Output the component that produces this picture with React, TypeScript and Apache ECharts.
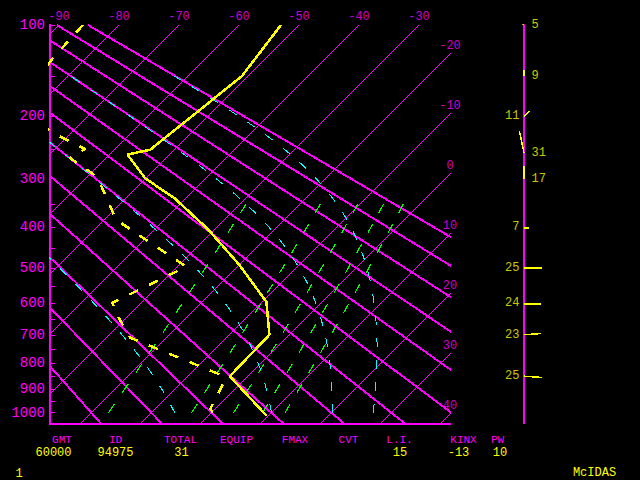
import React, { useEffect, useRef } from "react";
import * as echarts from "echarts";

// ---------------- data ----------------
const pressureLabels = [100, 200, 300, 400, 500, 600, 700, 800, 900, 1000];
const pressureTicks = [100, 150, 200, 250, 300, 350, 400, 450, 500, 550, 600, 650, 700, 750, 800, 850, 900, 950, 1000];
const isothermValues = [-90, -80, -70, -60, -50, -40, -30, -20, -10, 0, 10, 20, 30, 40];
const dryAdiabatThetas = [-20, -10, 0, 10, 20, 30, 40, 50, 60, 70, 80, 90]; // potential temperature, °C
const moistAdiabatThetaEs = [0, 30, 60, 90]; // equivalent potential temperature, °C
const mixingRatios = [1, 3, 5, 7, 9]; // g/kg

// temperature profile (hPa, °C)
const tempP = [100, 150, 250, 258, 300, 337, 405, 491, 595, 700, 850, 1013];
const tempT = [-53, -51, -54, -57, -50, -42, -31, -20, -9.3, -3.3, -3, 9.7];
// dew point profile (hPa, °C)
const dewP = [100, 130, 180, 222, 249, 264, 297, 383, 496, 598, 626, 710, 841, 872, 983, 1013];
const dewT = [-86, -85.5, -84, -73.7, -65, -66, -58.3, -48, -28.5, -34.8, -32.8, -26, -5.3, -3, -0.8, 1];

// winds (hPa, kt, degrees)
const windP = [100, 150, 200, 255, 300, 400, 500, 600, 700, 850];
const windSpeed = [5, 9, 11, 31, 17, 7, 25, 24, 23, 25];
const windDir = [315, 360, 45, 348, 360, 90, 90, 90, 86, 94];

// station statistics
const statNames = ["GMT", "ID", "TOTAL", "EQUIP", "FMAX", "CVT", "L.I.", "KINX", "PW"];
const statValues = ["60000", "94975", "31", "", "", "", "15", "-13", "10"];
const frameNumber = "1";
const brand = "McIDAS";

// ---------------- layout / style ----------------
const MAG = "#ff00ff";
const YEL = "#ffff00";
const CYAN = "#00ffff";
const GREEN = "#00ff00";
const FONT = '"Liberation Mono", "DejaVu Sans Mono", monospace';

const statNameX = [62, 115.5, 180.5, 236.5, 295, 348.5, 399.5, 463.5, 497.5];
const statValueX = [53.5, 115.5, 181.5, 236.5, 295, 348.5, 400, 458.5, 500];

const KAPPA = 0.286;
const sOf = (p: number) => Math.pow(p, KAPPA);
const GRID_LEFT = 50, GRID_TOP = 25, GRID_W = 400, GRID_H = 399;
const S_TOP = sOf(100), S_BOT = sOf(1050), S_1000 = sOf(1000);
const PX_PER_S = GRID_H / (S_BOT - S_TOP);
const PX_PER_C = 6;
const SKEW = PX_PER_S / PX_PER_C;
const X_MIN = -25, X_MAX = X_MIN + GRID_W / PX_PER_C;
const skewX = (T: number, p: number) => T + (S_BOT - sOf(p)) * SKEW;
const pt = (T: number, p: number) => [skewX(T, p), sOf(p)];

const dryT = (thC: number, p: number) => (thC + 273.15) * sOf(p) / S_1000 - 273.15;
const esat = (Tc: number) => 6.112 * Math.exp((17.67 * Tc) / (Tc + 243.5));
const thetaE = (Tc: number, p: number) => {
  const Tk = Tc + 273.15;
  const e = esat(Tc);
  const r = (0.622 * e) / (p - e);
  return Tk * (S_1000 / sOf(p)) * Math.exp((2.5e6 * r) / (1004 * Tk));
};
const moistT = (thEC: number, p: number) => {
  const target = thEC + 273.15;
  let lo = -130, hi = 45;
  for (let i = 0; i < 60; i++) {
    const mid = (lo + hi) / 2;
    if (thetaE(mid, p) < target) lo = mid; else hi = mid;
  }
  return (lo + hi) / 2;
};
const mixT = (w: number, p: number) => {
  const e = (w * p) / (622 + w);
  const l = Math.log(e / 6.112);
  return (243.5 * l) / (17.67 - l);
};

function buildOption() {
  const series: any[] = [];
  const base = { type: "line", symbol: "none", silent: true, clip: true, xAxisIndex: 0, yAxisIndex: 0 };

  isothermValues.forEach((T) => {
    series.push({ ...base, data: [pt(T, 100), pt(T, 1050)], lineStyle: { color: MAG, width: 1 }, z: 1 });
  });
  dryAdiabatThetas.forEach((th) => {
    series.push({ ...base, data: [pt(dryT(th, 100), 100), pt(dryT(th, 1050), 1050)], lineStyle: { color: MAG, width: 2 }, z: 2 });
  });
  moistAdiabatThetaEs.forEach((the) => {
    const d: number[][] = [];
    for (let p = 1000; p >= 150; p -= 10) d.push(pt(moistT(the, p), p));
    series.push({ ...base, data: d, lineStyle: { color: CYAN, width: 1, type: [9, 13] }, z: 3 });
  });
  const mixDashes: any[] = [];
  mixingRatios.forEach((w) => {
    for (let k = 0; k <= 10; k++) {
      const s0 = S_1000 - (20 * k) / PX_PER_S;
      const s1 = s0 - 8.5 / PX_PER_S;
      const p0 = Math.pow(s0, 1 / KAPPA), p1 = Math.pow(s1, 1 / KAPPA);
      mixDashes.push({ coords: [pt(mixT(w, p0), p0), pt(mixT(w, p1), p1)] });
    }
  });
  series.push({ type: "lines", coordinateSystem: "cartesian2d", xAxisIndex: 0, yAxisIndex: 0, silent: true, data: mixDashes, lineStyle: { color: GREEN, width: 1.2, opacity: 1 }, z: 3 });

  series.push({ ...base, data: tempP.map((p, i) => pt(tempT[i], p)), lineStyle: { color: YEL, width: 2.5 }, z: 5 });
  series.push({ ...base, data: dewP.map((p, i) => pt(dewT[i], p)), lineStyle: { color: YEL, width: 2.5, type: [10, 12] }, z: 5 });

  const isoLabels = isothermValues.map((T) => {
    const xTop = skewX(T, 100);
    if (xTop <= X_MAX) return [xTop, S_TOP, T];
    return [X_MAX, S_BOT - (X_MAX - T) / SKEW, T];
  });
  series.push({
    type: "scatter", xAxisIndex: 0, yAxisIndex: 0, silent: true, clip: false, symbolSize: 1,
    itemStyle: { color: "rgba(0,0,0,0)" }, data: isoLabels,
    label: { show: true, position: "top", distance: 2, color: MAG, fontFamily: FONT, fontSize: 12, formatter: (pr: any) => String(pr.value[2]) },
    z: 6,
  });

  // wind profile
  series.push({
    type: "lines", coordinateSystem: "cartesian2d", xAxisIndex: 1, yAxisIndex: 1, silent: true,
    data: [{ coords: [[0, S_TOP - 1 / PX_PER_S], [0, S_BOT]] }], lineStyle: { color: MAG, width: 1.5, opacity: 1 }, z: 4,
  });
  series.push({
    type: "lines", coordinateSystem: "cartesian2d", xAxisIndex: 1, yAxisIndex: 1, silent: true,
    data: windP.map((p, i) => {
      const L = windSpeed[i] * 0.72;
      const a = (windDir[i] * Math.PI) / 180;
      return { coords: [[0, sOf(p)], [L * Math.sin(a), sOf(p) - (L * Math.cos(a)) / PX_PER_S]] };
    }),
    lineStyle: { color: YEL, width: 1.5, opacity: 1 }, z: 5,
  });
  series.push({
    type: "scatter", xAxisIndex: 1, yAxisIndex: 1, silent: true, clip: false, symbolSize: 1,
    itemStyle: { color: "rgba(0,0,0,0)" },
    data: windP.map((p, i) => {
      const left = Math.sin((windDir[i] * Math.PI) / 180) > 0.3;
      return { value: [0, sOf(p), windSpeed[i]], label: { position: left ? "left" : "right", distance: left ? 4 : 7 } };
    }),
    label: { show: true, color: YEL, fontFamily: FONT, fontSize: 12, formatter: (pr: any) => String(pr.value[2]) },
    z: 6,
  });

  const graphic: any[] = [];
  const txt = (x: number, y: number, text: string, fill: string, size: number) => ({
    type: "text", x, y, silent: true,
    style: { text, fill, font: `${size}px ${FONT}`, align: "center", verticalAlign: "middle", textAlign: "center", textVerticalAlign: "middle" },
  });
  statNames.forEach((n, i) => graphic.push(txt(statNameX[i], 440, n, MAG, 11)));
  statValues.forEach((v, i) => { if (v) graphic.push(txt(statValueX[i], 452.5, v, YEL, 12)); });
  graphic.push(txt(19, 474, frameNumber, YEL, 12));
  graphic.push(txt(594.5, 473, brand, YEL, 12));

  return {
    animation: false,
    backgroundColor: "#000",
    textStyle: { fontFamily: FONT },
    grid: [
      { left: GRID_LEFT, top: GRID_TOP, width: GRID_W, height: GRID_H },
      { left: 474, top: GRID_TOP, width: 100, height: GRID_H },
    ],
    xAxis: [
      {
        type: "value", gridIndex: 0, min: X_MIN, max: X_MAX, position: "bottom",
        axisLine: { show: true, onZero: false, lineStyle: { color: MAG, width: 1.5 } },
        axisTick: { show: false }, axisLabel: { show: false }, splitLine: { show: false },
      },
      { type: "value", gridIndex: 1, min: -50, max: 50, show: false },
    ],
    yAxis: [
      {
        type: "value", gridIndex: 0, min: S_TOP, max: S_BOT, inverse: true, position: "left",
        axisLine: { show: true, onZero: false, lineStyle: { color: MAG, width: 1.5 } },
        axisTick: { show: true, inside: true, length: 5, customValues: pressureTicks.map(sOf), lineStyle: { color: MAG, width: 1 } },
        axisLabel: {
          show: true, color: MAG, fontFamily: FONT, fontSize: 14, margin: 5,
          customValues: pressureLabels.map(sOf),
          formatter: (v: number) => String(Math.round(Math.pow(v, 1 / KAPPA) / 10) * 10),
        },
        splitLine: { show: false },
      },
      { type: "value", gridIndex: 1, min: S_TOP, max: S_BOT, inverse: true, show: false },
    ],
    series,
    graphic,
  };
}

export default function App() {
  const ref = useRef<HTMLDivElement>(null);
  useEffect(() => {
    if (!ref.current) return;
    const chart = echarts.init(ref.current, null, { renderer: "svg", width: 640, height: 480 });
    chart.setOption(buildOption() as any);
    return () => chart.dispose();
  }, []);
  return (
    <div style={{ position: "fixed", left: 0, top: 0, width: 640, height: 480, background: "#000" }}>
      <style>{`.skewt svg path { shape-rendering: crispEdges; }`}</style>
      <div ref={ref} className="skewt" style={{ width: 640, height: 480 }} />
    </div>
  );
}
